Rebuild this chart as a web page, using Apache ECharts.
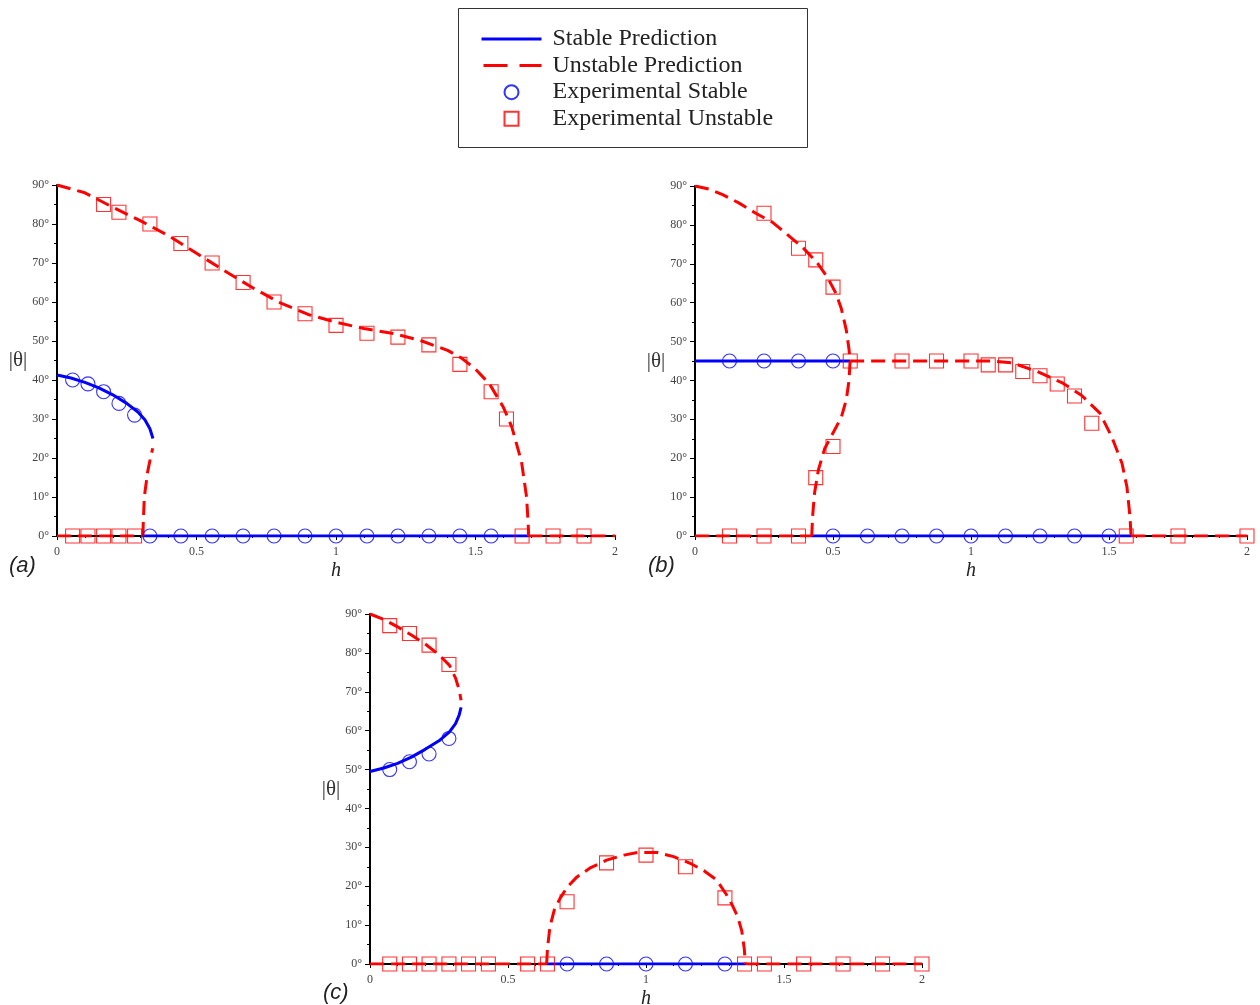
<!DOCTYPE html>
<html>
<head>
<meta charset="utf-8">
<script src="https://cdn.jsdelivr.net/npm/echarts@6/dist/echarts.min.js"></script>
<style>html,body{margin:0;padding:0;background:#fff;overflow:hidden;width:1260px;height:1005px}#c{width:1260px;height:1005px;display:block}</style>
</head>
<body>
<div id="c"></div>
<script>
// ---------- data ----------
const xTicks = [0, 0.5, 1, 1.5, 2];
const yTicks = [0, 10, 20, 30, 40, 50, 60, 70, 80, 90];
const legendNames = ['Stable Prediction', 'Unstable Prediction', 'Experimental Stable', 'Experimental Unstable'];
const panelLabels = ['(a)', '(b)', '(c)'];

// Panel (a)
const aStableCurve = [[0,41.3],[0.05,40.5],[0.1,39.4],[0.15,38],[0.2,36.2],[0.25,34],[0.29,31.8],[0.315,29.8],[0.333,27.5],[0.344,25]];
const aStableZero = [[0.308,0],[1.69,0]];
const aUnstableUpper = [[0,90],[0.1,88],[0.2,84.3],[0.3,80.8],[0.4,77],[0.5,72.5],[0.6,68],[0.7,63.7],[0.8,59.8],[0.9,56.8],[1.0,54.8],[1.1,53.2],[1.2,52],[1.3,50.2],[1.4,47.6],[1.45,45.6],[1.5,42.8],[1.55,39],[1.6,33],[1.63,28],[1.665,19],[1.683,10],[1.689,3],[1.69,0]];
const aUnstableLower = [[0.308,0],[0.309,3],[0.313,10],[0.325,16.5],[0.335,20],[0.343,22.5]];
const aUnstableZeroL = [[0,0],[0.308,0]];
const aUnstableZeroR = [[1.69,0],[2,0]];
const aExpStable = [[0.056,40],[0.111,39],[0.167,37],[0.222,34],[0.278,31],[0.333,0],[0.444,0],[0.556,0],[0.667,0],[0.778,0],[0.889,0],[1.0,0],[1.111,0],[1.222,0],[1.333,0],[1.444,0],[1.556,0]];
const aExpUnstable = [[0.056,0],[0.111,0],[0.167,0],[0.222,0],[0.278,0],[0.167,85],[0.222,83],[0.333,80],[0.444,75],[0.556,70],[0.667,65],[0.778,60],[0.889,57],[1.0,54],[1.111,52],[1.222,51],[1.333,49],[1.444,44],[1.556,37],[1.611,30],[1.667,0],[1.778,0],[1.889,0]];

// Panel (b)
const bStableUpper = [[0,45],[0.562,45]];
const bStableZero = [[0.423,0],[1.58,0]];
const bUnstableArc = [[0,90],[0.05,89.2],[0.1,87.8],[0.16,85.6],[0.22,83],[0.28,80.7],[0.34,77.2],[0.39,74.2],[0.44,70.5],[0.48,66.5],[0.51,62.5],[0.53,58.5],[0.548,53],[0.558,48],[0.562,45],[0.558,40],[0.548,35],[0.53,30.5],[0.5,26.5],[0.47,22.5],[0.447,17],[0.433,11],[0.426,5],[0.423,0]];
const bUnstableRight = [[0.562,45],[0.8,45],[1.0,45],[1.08,45],[1.15,44.5],[1.24,42.3],[1.333,39.3],[1.4,36.2],[1.467,31.6],[1.51,25.5],[1.547,18.7],[1.565,12.6],[1.576,5],[1.58,0]];
const bUnstableZeroL = [[0,0],[0.423,0]];
const bUnstableZeroR = [[1.58,0],[2,0]];
const bExpStable = [[0.125,45],[0.25,45],[0.375,45],[0.5,45],[0.5,0],[0.625,0],[0.75,0],[0.875,0],[1.0,0],[1.125,0],[1.25,0],[1.375,0],[1.5,0]];
const bExpUnstable = [[0.125,0],[0.25,0],[0.375,0],[0.25,83],[0.375,74],[0.4375,71],[0.5,64],[0.5625,45],[0.4375,15],[0.5,23],[0.75,45],[0.875,45],[1.0,45],[1.0625,44],[1.125,44],[1.1875,42.3],[1.25,41.2],[1.3125,39.1],[1.375,36],[1.4375,29],[1.5625,0],[1.75,0],[2.0,0]];

// Panel (c)
const cStableUpper = [[0,49.5],[0.05,50.4],[0.1,51.6],[0.15,53.2],[0.2,55.2],[0.25,57.4],[0.288,59.7],[0.31,61.8],[0.323,64],[0.33,66]];
const cUnstableUpper = [[0,90],[0.05,88.6],[0.1,86.7],[0.15,84.6],[0.2,82.3],[0.25,79.5],[0.288,76.8],[0.31,73.5],[0.323,70.5],[0.33,67.8]];
const cStableZero = [[0.64,0],[1.36,0]];
const cUnstableArc = [[0.64,0],[0.643,4],[0.652,9.6],[0.668,14],[0.688,16.8],[0.715,19.8],[0.75,22.4],[0.8,24.8],[0.857,26.7],[0.92,28],[0.97,28.7],[1.04,28.7],[1.1,27.6],[1.16,25.9],[1.21,24],[1.256,21.6],[1.29,18],[1.31,15.5],[1.333,12],[1.347,8.5],[1.356,4],[1.36,0]];
const cUnstableZeroL = [[0,0],[0.64,0]];
const cUnstableZeroR = [[1.36,0],[2,0]];
const cExpStable = [[0.0714,50],[0.143,52],[0.214,54],[0.286,58],[0.714,0],[0.857,0],[1.0,0],[1.143,0],[1.286,0]];
const cExpUnstable = [[0.0714,87],[0.143,85],[0.214,82],[0.286,77],[0.0714,0],[0.143,0],[0.214,0],[0.286,0],[0.357,0],[0.429,0],[0.571,0],[0.643,0],[0.714,16],[0.857,26],[1.0,28],[1.143,25],[1.286,17],[1.357,0],[1.429,0],[1.571,0],[1.714,0],[1.857,0],[2.0,0]];

// ---------- build ----------
const BLUE = '#0000ff', RED = '#ff0000';
const SERIF = 'Liberation Serif';
const CLEAR = 'rgba(0,0,0,0)';
const grids = [
  {left: 57, top: 185, width: 558, height: 351, outerBoundsMode: 'none', containLabel: false},
  {left: 695, top: 186, width: 552, height: 350, outerBoundsMode: 'none', containLabel: false},
  {left: 370, top: 614, width: 552, height: 350, outerBoundsMode: 'none', containLabel: false}
];
const xAxes = grids.map((g, i) => ({
  type: 'value', gridIndex: i, min: xTicks[0], max: xTicks[xTicks.length-1], interval: 0.5,
  name: 'h', nameLocation: 'middle', nameGap: 25,
  nameTextStyle: {fontFamily: SERIF, fontStyle: 'italic', fontSize: 20, color: '#222'},
  axisLine: {lineStyle: {color: '#000', width: 2}},
  axisTick: {length: 4, lineStyle: {color: '#000', width: 1}},
  minorTick: {show: true, splitNumber: 5, length: 2, lineStyle: {color: '#000'}},
  splitLine: {show: false},
  axisLabel: {fontFamily: SERIF, fontSize: 12, color: '#444', margin: 10, formatter: v => String(v)}
}));
const yAxes = grids.map((g, i) => ({
  type: 'value', gridIndex: i, min: yTicks[0], max: yTicks[yTicks.length-1], interval: 10,
  name: '|θ|', nameLocation: 'middle', nameGap: 27, nameRotate: 0,
  nameTextStyle: {fontFamily: SERIF, fontSize: 21, color: '#333'},
  axisLine: {lineStyle: {color: '#000', width: 2}},
  axisTick: {length: 5, lineStyle: {color: '#000', width: 1}},
  minorTick: {show: true, splitNumber: 2, length: 3, lineStyle: {color: '#000'}},
  splitLine: {show: false},
  axisLabel: {fontFamily: SERIF, fontSize: 12, color: '#444', margin: 8, formatter: v => v + '°'}
}));

const series = [];
function line(name, data, idx, dashed) {
  series.push({
    name, type: 'line', xAxisIndex: idx, yAxisIndex: idx, data,
    symbol: 'none', smooth: false, z: 3, animation: false,
    lineStyle: {color: dashed ? RED : BLUE, width: 3, type: dashed ? [14, 7] : 'solid'},
    itemStyle: {color: dashed ? RED : BLUE}
  });
}
function scat(name, data, idx, sym, color) {
  series.push({
    name, type: 'scatter', xAxisIndex: idx, yAxisIndex: idx, data,
    symbol: sym, symbolSize: 14, z: 4, animation: false,
    itemStyle: {color: CLEAR, borderColor: color, borderWidth: 1.1}
  });
}
// (a)
line(legendNames[0], aStableCurve, 0, false);
line(legendNames[0], aStableZero, 0, false);
line(legendNames[1], aUnstableUpper, 0, true);
line(legendNames[1], aUnstableLower, 0, true);
line(legendNames[1], aUnstableZeroL, 0, true);
line(legendNames[1], aUnstableZeroR, 0, true);
scat(legendNames[2], aExpStable, 0, 'circle', BLUE);
scat(legendNames[3], aExpUnstable, 0, 'rect', RED);
// (b)
line(legendNames[0], bStableUpper, 1, false);
line(legendNames[0], bStableZero, 1, false);
line(legendNames[1], bUnstableArc, 1, true);
line(legendNames[1], bUnstableRight, 1, true);
line(legendNames[1], bUnstableZeroL, 1, true);
line(legendNames[1], bUnstableZeroR, 1, true);
scat(legendNames[2], bExpStable, 1, 'circle', BLUE);
scat(legendNames[3], bExpUnstable, 1, 'rect', RED);
// (c)
line(legendNames[0], cStableUpper, 2, false);
line(legendNames[0], cStableZero, 2, false);
line(legendNames[1], cUnstableUpper, 2, true);
line(legendNames[1], cUnstableArc, 2, true);
line(legendNames[1], cUnstableZeroL, 2, true);
line(legendNames[1], cUnstableZeroR, 2, true);
scat(legendNames[2], cExpStable, 2, 'circle', BLUE);
scat(legendNames[3], cExpUnstable, 2, 'rect', RED);

const option = {
  backgroundColor: '#fff',
  animation: false,
  grid: grids,
  xAxis: xAxes,
  yAxis: yAxes,
  legend: {
    orient: 'vertical', left: 480, top: 27, padding: 0, itemWidth: 60, itemHeight: 14, itemGap: 2.6,
    selectedMode: false, symbolKeepAspect: true,
    textStyle: {fontFamily: SERIF, fontSize: 24, color: '#222', lineHeight: 21, padding: [0, 0, 0, 6]},
    data: [
      {name: legendNames[0], lineStyle: {width: 3, color: BLUE}, itemStyle: {color: CLEAR, borderWidth: 0, opacity: 0}},
      {name: legendNames[1], lineStyle: {width: 3, color: RED, type: [24, 12], dashOffset: -2}, itemStyle: {color: CLEAR, borderWidth: 0, opacity: 0}},
      {name: legendNames[2], icon: 'circle', itemStyle: {color: CLEAR, borderColor: BLUE, borderWidth: 2}},
      {name: legendNames[3], icon: 'path://M0,0 L10,0 L10,10 L0,10 Z', itemStyle: {color: CLEAR, borderColor: RED, borderWidth: 2}}
    ]
  },
  graphic: [
    {type: 'rect', shape: {x: 458.5, y: 8.5, width: 349, height: 139}, style: {fill: 'none', stroke: '#333', lineWidth: 1}},
    {type: 'text', left: 9, top: 555, style: {text: panelLabels[0], font: 'italic 22px "Liberation Sans"', fill: '#222'}},
    {type: 'text', left: 648, top: 555, style: {text: panelLabels[1], font: 'italic 22px "Liberation Sans"', fill: '#222'}},
    {type: 'text', left: 323, top: 982, style: {text: panelLabels[2], font: 'italic 22px "Liberation Sans"', fill: '#222'}}
  ],
  series
};
const chart = echarts.init(document.getElementById('c'), null, {renderer: 'canvas', width: 1260, height: 1005});
chart.setOption(option);
</script>
</body>
</html>
